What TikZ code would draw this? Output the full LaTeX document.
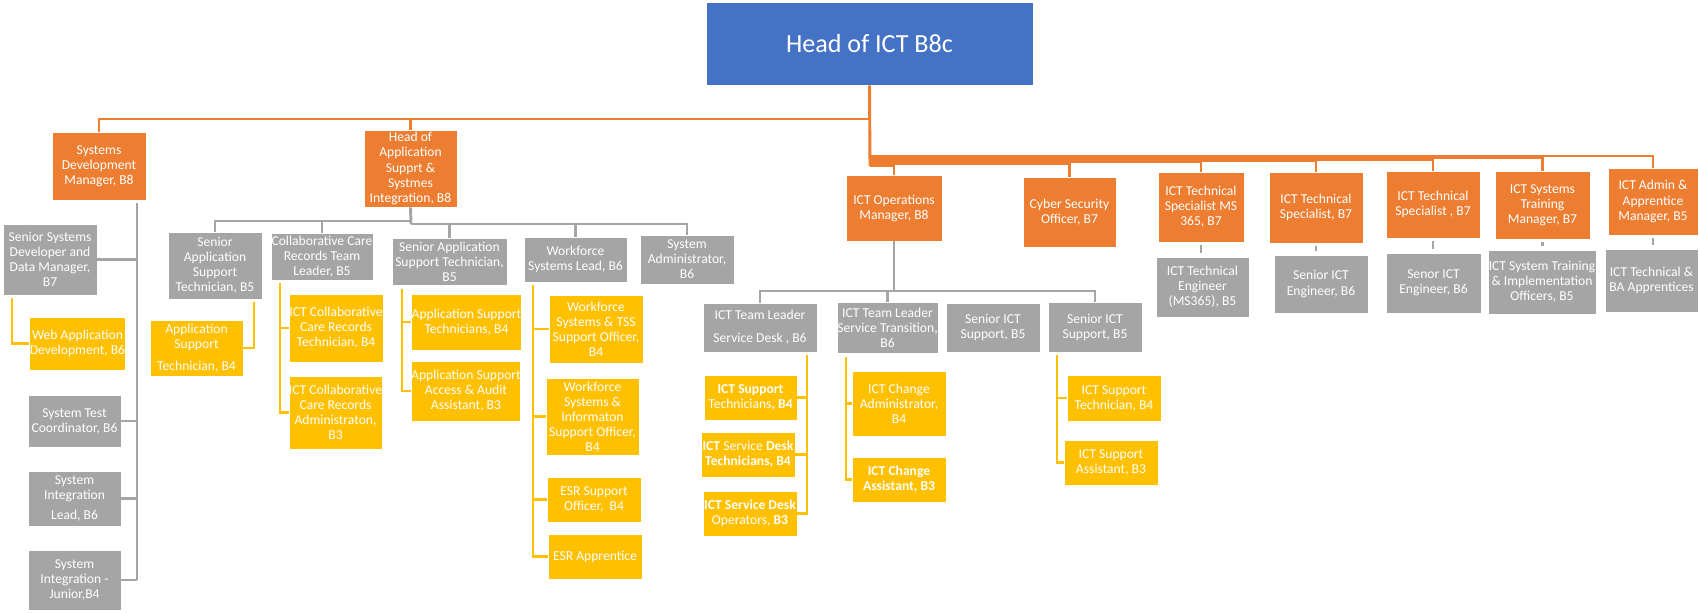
\documentclass[tikz,border=0pt]{standalone}
\usepackage{fontspec}
\setmainfont{Carlito}
\definecolor{cblue}{HTML}{4472C4}
\definecolor{corange}{HTML}{ED7D31}
\definecolor{cgray}{HTML}{A5A5A5}
\definecolor{cyellow}{HTML}{FFC000}
\newcommand\bx[7]{%
  \pgfmathsetmacro\bxw{(#5-#3)*0.75}%
  \pgfmathsetmacro\bxh{(#6-#4)*0.75}%
  \node[#2, minimum width=\bxw pt, minimum height=\bxh pt] (#1) at ({(#3+#5)/2},{(#4+#6)/2}) {#7};}
\tikzset{
  box/.style={draw=white, line width=0.6pt, text=white, align=center, inner sep=0pt, font=\fontsize{10.2}{11.3}\selectfont},
  bl/.style={box, fill=cblue, font=\fontsize{19.6}{24}\selectfont},
  og/.style={box, fill=corange},
  gy/.style={box, fill=cgray},
  yl/.style={box, fill=cyellow},
  oline/.style={draw=corange, line width=2.2pt},
  gline/.style={draw=cgray, line width=2.2pt},
  yline/.style={draw=cyellow, line width=2.2pt},
  tick/.style={draw=cgray, line width=1.6pt, shorten <=2.2pt, shorten >=2.6pt},
}
\begin{document}
\begin{tikzpicture}[x=0.75pt,y=-0.75pt]
\useasboundingbox (0,0) rectangle (1699,612);
% top level
\bx{head}{bl}{706}{2}{1033}{85}{Head of ICT B8c}
\bx{sdm}{og}{52}{132}{146}{200}{Systems\\Development\\Manager, B8}
\bx{hoa}{og}{364}{130}{457}{207}{Head of\\Application\\Supprt \&\\Systmes\\Integration, B8}
\bx{ops}{og}{846}{175}{942}{241}{ICT Operations\\Manager, B8}
\bx{cyb}{og}{1023}{177}{1116}{247}{Cyber Security\\Officer, B7}
\bx{ms}{og}{1158}{172}{1244}{242}{ICT Technical\\Specialist MS\\365, B7}
\bx{ts2}{og}{1269}{172}{1363}{243}{ICT Technical\\Specialist, B7}
\bx{ts3}{og}{1386}{171}{1480}{238}{ICT Technical\\Specialist , B7}
\bx{trm}{og}{1495}{171}{1590}{239}{ICT Systems\\Training\\Manager, B7}
\bx{adm}{og}{1608}{168}{1698}{235}{ICT Admin \&\\Apprentice\\Manager, B5}
% gray
\bx{ssd}{gy}{3}{224}{97}{295}{Senior Systems\\Developer and\\Data Manager,\\B7}
\bx{stc}{gy}{28}{395}{121}{447}{System Test\\Coordinator, B6}
\bx{sil}{gy}{28}{471}{121}{526}{System\\Integration\\[4pt]Lead, B6}
\bx{sij}{gy}{28}{550}{121}{610}{System\\Integration -\\Junior,B4}
\bx{sast}{gy}{168}{232}{262}{299}{Senior\\Application\\Support\\Technician, B5}
\bx{ccr}{gy}{271}{233}{373}{280}{Collaborative Care\\Records Team\\Leader, B5}
\bx{sast2}{gy}{392}{238}{507}{285}{Senior Application\\Support Technician,\\B5}
\bx{wsl}{gy}{524}{237}{627}{282}{Workforce\\Systems Lead, B6}
\bx{sa}{gy}{640}{235}{734}{284}{System\\Administrator,\\B6}
\bx{tlsd}{gy}{703}{303}{817}{352}{ICT Team Leader\\[6pt]Service Desk , B6}
\bx{tlst}{gy}{837}{302}{938}{353}{ICT Team Leader\\Service Transition,\\B6}
\bx{sis1}{gy}{946}{303}{1040}{352}{Senior ICT\\Support, B5}
\bx{sis2}{gy}{1048}{302}{1142}{352}{Senior ICT\\Support, B5}
\bx{te}{gy}{1156}{257}{1249}{317}{ICT Technical\\Engineer\\(MS365), B5}
\bx{sie}{gy}{1274}{255}{1368}{313}{Senior ICT\\Engineer, B6}
\bx{snie}{gy}{1386}{253}{1481}{313}{Senor ICT\\Engineer, B6}
\bx{stio}{gy}{1488}{250}{1596}{314}{ICT System Training\\\& Implementation\\Officers, B5}
\bx{ba}{gy}{1605}{249}{1698}{312}{ICT Technical \&\\BA Apprentices}
% yellow
\bx{web}{yl}{31}{317}{124}{370}{Web Application\\Development, B6}
\bx{ast}{yl}{150}{320}{243}{376}{Application\\Support\\[5pt]Technician, B4}
\bx{cct}{yl}{289}{294}{383}{362}{ICT Collaborative\\Care Records\\Technician, B4}
\bx{cca}{yl}{289}{376}{382}{449}{ICT Collaborative\\Care Records\\Administraton,\\B3}
\bx{ast2}{yl}{413}{294}{520}{350}{Application Support\\Technicians, B4}
\bx{aaa}{yl}{413}{361}{519}{421}{Application Support\\Access \& Audit\\Assistant, B3}
\bx{wt}{yl}{549}{295}{643}{363}{Workforce\\Systems \& TSS\\Support Officer,\\B4}
\bx{wi}{yl}{546}{378}{639}{455}{Workforce\\Systems \&\\Informaton\\Support Officer,\\B4}
\bx{esr}{yl}{547}{477}{641}{522}{ESR Support\\Officer,~ B4}
\bx{esra}{yl}{548}{534}{642}{579}{ESR Apprentice}
\bx{ist}{yl}{704}{375}{797}{420}{\textbf{ICT Support}\\Technicians\textbf{, B4}}
\bx{sdt}{yl}{701}{432}{795}{477}{\textbf{ICT} Service \textbf{Desk}\\\textbf{Technicians, B4}}
\bx{sdo}{yl}{703}{491}{797}{536}{\textbf{ICT Service Desk}\\Operators, \textbf{B3}}
\bx{cad}{yl}{852}{371}{946}{436}{ICT Change\\Administrator,\\B4}
\bx{cas}{yl}{852}{457}{946}{502}{\textbf{ICT Change}\\\textbf{Assistant, B3}}
\bx{ite}{yl}{1067}{375}{1161}{421}{ICT Support\\Technician, B4}
\bx{isa}{yl}{1064}{440}{1158}{485}{ICT Support\\Assistant, B3}
% orange connectors
\coordinate (tr) at (870,166);
\coordinate (lb) at (870,119);
\draw[oline] (head.south) -- (tr);
\draw[oline] (sdm.north) |- (lb);
\draw[oline] (hoa.north) -- (hoa.north |- lb);
\foreach \n/\y in {adm/156, trm/158, ts3/160, ts2/161, ms/162, cyb/164, ops/166}{
  \coordinate (b\n) at (870,\y);
  \draw[oline] (b\n) -| (\n.north);
}
% gray connectors
\coordinate (sdmT) at (137,203);
\draw[gline] (sdmT) -- (sdmT |- sij.east);
\foreach \n in {ssd,stc,sil,sij}{\draw[gline] (\n.east) -- (\n.east -| sdmT);}
\coordinate (hbL) at (411,221);
\coordinate (hbR) at (411,224);
\draw[gline] (hoa.south) -- (hbR);
\draw[gline] (sast.north) |- (hbL);
\draw[gline] (ccr.north) -- (ccr.north |- hbL);
\draw[gline] (sa.north) |- (hbR);
\draw[gline] (sast2.north) -- (sast2.north |- hbR);
\draw[gline] (wsl.north) -- (wsl.north |- hbR);
\coordinate (ob) at (894,291);
\draw[gline] (ops.south) -- (ob);
\draw[gline] (tlsd.north) |- (ob);
\draw[gline] (sis2.north) |- (ob);
\draw[gline] (tlst.north) -- (tlst.north |- ob);
\draw[tick] (ms.south) -- (ms.south |- te.north);
\draw[tick] (ts2.south) -- (ts2.south |- sie.north);
\draw[tick] (ts3.south) -- (ts3.south |- snie.north);
\draw[tick] (trm.south) -- (trm.south |- stio.north);
\draw[tick] (adm.south) -- (adm.south |- ba.north);
% yellow connectors
\coordinate (webT) at (12,298);
\draw[yline] (webT) |- (web.west);
\coordinate (astT) at (254,302);
\draw[yline] (astT) |- (ast.east);
\coordinate (ccT) at (280,283);
\draw[yline] (ccT) |- (cct.west);
\draw[yline] (ccT) |- (cca.west);
\coordinate (saT) at (402,289);
\draw[yline] (saT) |- (ast2.west);
\draw[yline] (saT) |- (aaa.west);
\coordinate (wT) at (533,285);
\foreach \n in {wt,wi,esr,esra}{\draw[yline] (wT) |- (\n.west);}
\coordinate (sdT) at (807,355);
\foreach \n in {ist,sdt,sdo}{\draw[yline] (sdT) |- (\n.east);}
\coordinate (stT) at (846,357);
\foreach \n in {cad,cas}{\draw[yline] (stT) |- (\n.west);}
\coordinate (siT) at (1057,355);
\foreach \n in {ite,isa}{\draw[yline] (siT) |- (\n.west);}
\end{tikzpicture}
\end{document}
